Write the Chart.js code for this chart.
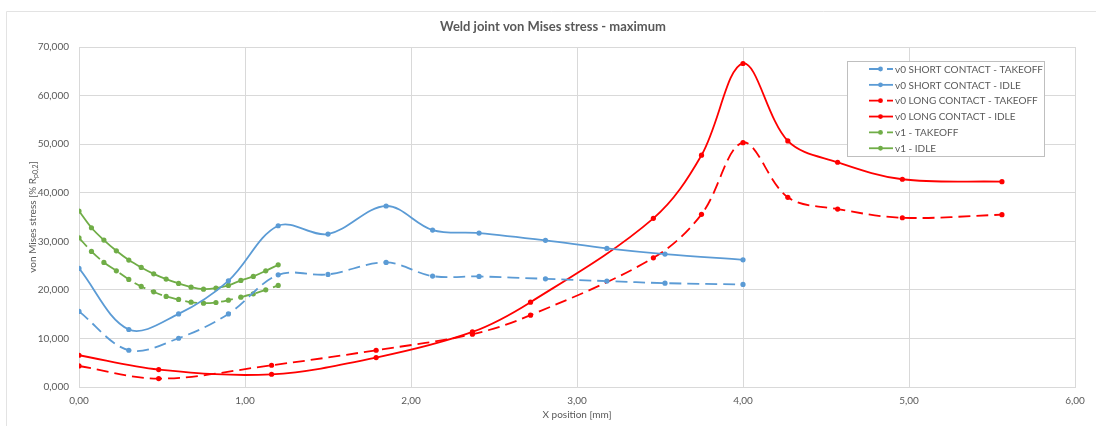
<!DOCTYPE html>
<html>
<head>
<meta charset="utf-8">
<title>Weld joint von Mises stress - maximum</title>
<script src="https://cdn.jsdelivr.net/npm/chart.js@4.4.1/dist/chart.umd.min.js"></script>
<style>
  html, body { margin: 0; padding: 0; background: #ffffff; }
  canvas { display: block; }
</style>
</head>
<body>
<canvas id="chart" width="1096" height="426"></canvas>
<script>
// X positions [mm] for each model group
const xShort = [0, 0.3, 0.6, 0.9, 1.2, 1.5, 1.85, 2.13, 2.41, 2.81, 3.18, 3.53, 4.0];
const xLong  = [0, 0.48, 1.16, 1.79, 2.37, 2.72, 3.46, 3.75, 4.0, 4.27, 4.57, 4.96, 5.56];
const xV1    = [0, 0.075, 0.15, 0.225, 0.3, 0.375, 0.45, 0.525, 0.6, 0.675, 0.75, 0.825, 0.9, 0.975, 1.05, 1.125, 1.2];

// von Mises stress [% Rp0,2]
const shortTakeoff = [15.55, 7.57, 10.04, 15.05, 23.09, 23.18, 25.65, 22.83, 22.76, 22.27, 21.80, 21.38, 21.12];
const shortIdle    = [24.41, 11.84, 15.05, 21.86, 33.20, 31.49, 37.26, 32.31, 31.69, 30.19, 28.54, 27.36, 26.19];
const longTakeoff  = [4.33, 1.73, 4.48, 7.57, 10.87, 14.79, 26.60, 35.55, 50.31, 39.05, 36.64, 34.85, 35.47];
const longIdle     = [6.54, 3.59, 2.62, 6.06, 11.34, 17.47, 34.72, 47.72, 66.60, 50.66, 46.27, 42.77, 42.27];
const v1Takeoff    = [30.72, 27.92, 25.65, 23.92, 22.15, 20.70, 19.59, 18.64, 18.02, 17.47, 17.26, 17.40, 17.88, 18.50, 19.18, 20.00, 20.91];
const v1Idle       = [36.23, 32.79, 30.25, 28.04, 26.13, 24.62, 23.30, 22.21, 21.32, 20.56, 20.15, 20.35, 20.91, 21.94, 22.76, 23.92, 25.16];

// Series names
const seriesNames = [
  'v0 SHORT CONTACT - TAKEOFF',
  'v0 SHORT CONTACT - IDLE',
  'v0 LONG CONTACT - TAKEOFF',
  'v0 LONG CONTACT - IDLE',
  'v1 - TAKEOFF',
  'v1 - IDLE'
];

// Axis ticks
const xTicks = [0, 1, 2, 3, 4, 5, 6];
const yTicks = [0, 10, 20, 30, 40, 50, 60, 70];

const BLUE = '#5B9BD5';
const RED = '#FF0000';
const GREEN = '#70AD47';
const TEXT = '#595959';
const GRID = '#d9d9d9';
const FONT = 'Lato, "Open Sans", sans-serif';

function pts(xs, ys) { return xs.map((x, i) => ({ x: x, y: ys[i] })); }

function series(label, xs, ys, color, dashed) {
  return {
    label: label,
    data: pts(xs, ys),
    borderColor: color,
    backgroundColor: color,
    pointBackgroundColor: color,
    pointBorderColor: color,
    borderWidth: 1.8,
    borderDash: dashed ? [12, 6] : [],
    pointRadius: 2.6,
    pointBorderWidth: 0,
    pointHoverRadius: 2.6,
    tension: 0.35,
    showLine: true,
    fill: false
  };
}

const datasets = [
  series(seriesNames[0], xShort, shortTakeoff, BLUE, true),
  series(seriesNames[1], xShort, shortIdle, BLUE, false),
  series(seriesNames[2], xLong, longTakeoff, RED, true),
  series(seriesNames[3], xLong, longIdle, RED, false),
  series(seriesNames[4], xV1, v1Takeoff, GREEN, true),
  series(seriesNames[5], xV1, v1Idle, GREEN, false)
];

// Frame, titles and the in-plot legend
const decorations = {
  id: 'decorations',
  beforeDraw(chart) {
    const ctx = chart.ctx;
    ctx.save();
    ctx.fillStyle = '#ffffff';
    ctx.fillRect(0, 0, chart.width, chart.height);
    ctx.strokeStyle = '#e3e3e3';
    ctx.lineWidth = 1;
    ctx.beginPath();
    ctx.moveTo(6.5, chart.height);
    ctx.lineTo(6.5, 11.5);
    ctx.lineTo(chart.width, 11.5);
    ctx.stroke();
    ctx.restore();
  },
  afterDraw(chart) {
    const ctx = chart.ctx;
    const area = chart.chartArea;
    ctx.save();

    // Chart title
    ctx.fillStyle = TEXT;
    ctx.font = 'bold 13px ' + FONT;
    ctx.textAlign = 'center';
    ctx.textBaseline = 'middle';
    ctx.fillText('Weld joint von Mises stress - maximum', 553, 27);

    // X axis title
    ctx.font = '10px ' + FONT;
    ctx.fillText('X position [mm]', (area.left + area.right) / 2, 415);

    // Y axis title with subscript
    const main = 'von Mises stress [% R';
    const sub = 'p0,2';
    const tail = ']';
    ctx.font = '10px ' + FONT;
    const wMain = ctx.measureText(main).width;
    const wTail = ctx.measureText(tail).width;
    ctx.font = '7px ' + FONT;
    const wSub = ctx.measureText(sub).width;
    const total = wMain + wSub + wTail;
    ctx.translate(32, (area.top + area.bottom) / 2);
    ctx.rotate(-Math.PI / 2);
    ctx.textAlign = 'left';
    ctx.textBaseline = 'alphabetic';
    let x0 = -total / 2;
    ctx.font = '10px ' + FONT;
    ctx.fillText(main, x0, 3.5);
    ctx.font = '7px ' + FONT;
    ctx.fillText(sub, x0 + wMain, 6);
    ctx.font = '10px ' + FONT;
    ctx.fillText(tail, x0 + wMain + wSub, 3.5);
    ctx.setTransform(1, 0, 0, 1, 0, 0);

    // Legend box
    const bx = 847.5, by = 61.5, bw = 197, bh = 95;
    ctx.fillStyle = '#ffffff';
    ctx.fillRect(bx, by, bw, bh);
    ctx.strokeStyle = '#bfbfbf';
    ctx.lineWidth = 1;
    ctx.strokeRect(bx, by, bw, bh);

    chart.data.datasets.forEach((ds, i) => {
      const y = 69 + i * 15.85;
      ctx.strokeStyle = ds.borderColor;
      ctx.lineWidth = 1.8;
      ctx.setLineDash(ds.borderDash.length ? [12, 6] : []);
      ctx.beginPath();
      ctx.moveTo(869, y);
      ctx.lineTo(893, y);
      ctx.stroke();
      ctx.setLineDash([]);
      ctx.fillStyle = ds.borderColor;
      ctx.beginPath();
      ctx.arc(880.5, y, 2.4, 0, Math.PI * 2);
      ctx.fill();
      ctx.fillStyle = TEXT;
      ctx.font = '10px ' + FONT;
      ctx.textAlign = 'left';
      ctx.textBaseline = 'middle';
      ctx.fillText(ds.label, 895, y + 0.5);
    });

    ctx.restore();
  }
};

new Chart(document.getElementById('chart'), {
  type: 'scatter',
  data: { datasets: datasets },
  options: {
    responsive: false,
    animation: false,
    layout: { padding: { left: 0, top: 47, right: 21, bottom: 0 } },
    plugins: {
      legend: { display: false },
      title: { display: false },
      tooltip: { enabled: false }
    },
    scales: {
      x: {
        type: 'linear',
        min: xTicks[0],
        max: xTicks[xTicks.length - 1],
        afterBuildTicks(scale) { scale.ticks = xTicks.map(v => ({ value: v })); },
        afterFit(scale) { scale.height = 39; },
        ticks: {
          color: TEXT,
          font: { family: FONT, size: 10 },
          padding: 8,
          maxRotation: 0,
          callback: v => Number(v).toFixed(2).replace('.', ',')
        },
        grid: { color: GRID, lineWidth: 1, drawTicks: false },
        border: { color: GRID }
      },
      y: {
        min: yTicks[0],
        max: yTicks[yTicks.length - 1],
        afterBuildTicks(scale) { scale.ticks = yTicks.map(v => ({ value: v })); },
        afterFit(scale) { scale.width = 79; },
        ticks: {
          color: TEXT,
          font: { family: FONT, size: 10 },
          padding: 10,
          callback: v => Number(v).toFixed(3).replace('.', ',')
        },
        grid: { color: GRID, lineWidth: 1, drawTicks: false },
        border: { color: GRID }
      }
    }
  },
  plugins: [decorations]
});
</script>
</body>
</html>
